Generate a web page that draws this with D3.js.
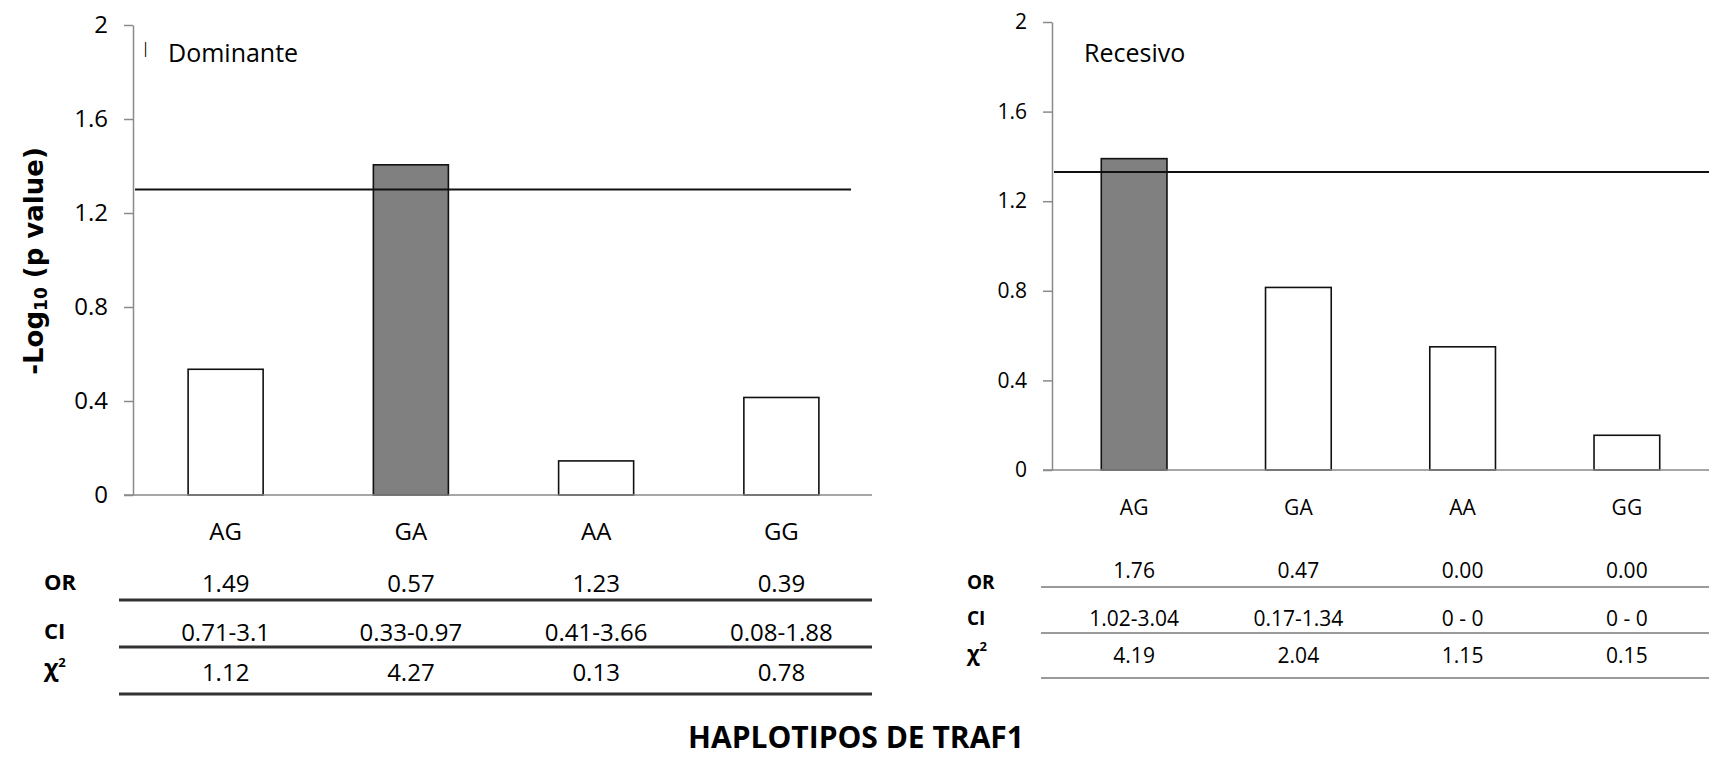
<!DOCTYPE html>
<html>
<head>
<meta charset="utf-8">
<script src="https://cdn.jsdelivr.net/npm/d3@7"></script>
<style>
  body { margin: 0; background: #fff; }
  svg text { font-family: "Open Sans", sans-serif; fill: #000; }
</style>
</head>
<body>
<svg id="chart" width="1709" height="757"></svg>
<script>
// haplotypes on the x axis
var haplotypes = ["AG", "GA", "AA", "GG"];

// -log10(p) per haplotype
var domValues = [0.535, 1.405, 0.145, 0.415];
var recValues = [1.39, 0.815, 0.55, 0.155];

// significance lines
var domThreshold = 1.30;
var recThreshold = 1.33;

var yTicks = [0, 0.4, 0.8, 1.2, 1.6, 2];

// bar drawn in grey
var domHighlight = "GA";
var recHighlight = "AG";

// table rows under each chart
var domOR = ["1.49", "0.57", "1.23", "0.39"];
var domCI = ["0.71-3.1", "0.33-0.97", "0.41-3.66", "0.08-1.88"];
var domChi = ["1.12", "4.27", "0.13", "0.78"];
var recOR = ["1.76", "0.47", "0.00", "0.00"];
var recCI = ["1.02-3.04", "0.17-1.34", "0 - 0", "0 - 0"];
var recChi = ["4.19", "2.04", "1.15", "0.15"];

var svg = d3.select("#chart");

function drawPanel(p) {

  var x = d3.scaleBand()
    .domain(haplotypes)
    .range([p.x0, p.x1])
    .paddingInner(p.pad)
    .paddingOuter(p.pad / 2);

  var y = d3.scaleLinear()
    .domain([0, 2])
    .range([p.yBottom, p.yTop]);

  var g = svg.append("g");

  // y axis
  var yAxis = d3.axisLeft(y)
    .tickValues(yTicks)
    .tickSize(9)
    .tickSizeOuter(0)
    .tickPadding(16)
    .tickFormat(d3.format("~g"));

  var ya = g.append("g")
    .attr("transform", "translate(" + p.x0 + ",0)")
    .call(yAxis);
  ya.select(".domain").attr("stroke", "#8a8a8a").attr("stroke-width", 1.5);
  ya.selectAll(".tick line").attr("stroke", "#8a8a8a").attr("stroke-width", 1.5);
  ya.selectAll(".tick text")
    .style("font-size", p.tickFs + "px")
    .attr("fill", "#222");

  // bars
  g.selectAll(".bar")
    .data(p.values)
    .enter().append("rect")
    .attr("class", "bar")
    .attr("x", function(d, i) { return x(haplotypes[i]); })
    .attr("width", x.bandwidth())
    .attr("y", function(d) { return y(d); })
    .attr("height", function(d) { return y(0) - y(d); })
    .attr("fill", function(d, i) { return haplotypes[i] == p.highlight ? "#808080" : "#fff"; })
    .attr("stroke", "#111")
    .attr("stroke-width", 1.6);

  // x axis line
  g.append("line")
    .attr("x1", p.x0 - 9).attr("x2", p.xEnd)
    .attr("y1", y(0)).attr("y2", y(0))
    .attr("stroke", "#8a8a8a").attr("stroke-width", 1.5);

  // x labels
  var xAxis = d3.axisBottom(x).tickSize(0).tickPadding(p.xLabelPad);
  var xa = g.append("g")
    .attr("transform", "translate(0," + y(0) + ")")
    .call(xAxis);
  xa.select(".domain").remove();
  xa.selectAll(".tick text").style("font-size", p.fs + "px").attr("fill", "#222");

  // threshold line
  g.append("line")
    .attr("x1", p.x0 + 2).attr("x2", p.lineEnd)
    .attr("y1", y(p.threshold)).attr("y2", y(p.threshold))
    .attr("stroke", "#111").attr("stroke-width", 2);

  // panel title
  g.append("text")
    .attr("x", p.titleX).attr("y", 62)
    .style("font-size", "25px")
    .text(p.title);

  // table
  var rows = [p.or, p.ci, p.chi];
  rows.forEach(function(row, r) {
    g.selectAll(".cell" + r)
      .data(row)
      .enter().append("text")
      .attr("x", function(d, i) { return x(haplotypes[i]) + x.bandwidth() / 2; })
      .attr("y", p.rowY[r])
      .attr("dy", "0.36em")
      .attr("text-anchor", "middle")
      .style("font-size", p.fs + "px")
      .attr("fill", "#222")
      .text(function(d) { return d; });

    g.append("line")
      .attr("x1", p.tableX0).attr("x2", p.tableX1)
      .attr("y1", p.lineY[r]).attr("y2", p.lineY[r])
      .attr("stroke", p.lineColor).attr("stroke-width", p.lineW);
  });

  var labels = ["OR", "CI"];
  labels.forEach(function(l, r) {
    g.append("text")
      .attr("x", p.labelX).attr("y", p.labelY[r])
      .attr("dy", "0.36em")
      .style("font-size", p.labelFs + "px").style("font-weight", "bold")
      .text(l);
  });
  var chi = g.append("text")
    .attr("x", p.labelX).attr("y", p.labelY[2])
    .attr("dy", "0.36em")
    .style("font-size", (p.labelFs + 2) + "px").style("font-weight", "bold");
  chi.append("tspan").text("χ");
  chi.append("tspan").attr("dy", "-0.7em").style("font-size", "13px").text("2");
}

// Dominante
drawPanel({
  x0: 133, x1: 874, xEnd: 872, lineEnd: 851, pad: 0.595,
  yBottom: 495, yTop: 25,
  fs: 24, tickFs: 24, xLabelPad: 28, labelFs: 22,
  values: domValues, threshold: domThreshold, highlight: domHighlight,
  title: "Dominante", titleX: 168,
  or: domOR, ci: domCI, chi: domChi,
  rowY: [583, 632, 672], labelY: [582, 631, 667], labelX: 44,
  lineY: [600, 647, 694], tableX0: 119, tableX1: 872,
  lineColor: "#333", lineW: 3
});

// Recesivo
drawPanel({
  x0: 1052, x1: 1709, xEnd: 1709, lineEnd: 1709, pad: 0.6,
  yBottom: 470, yTop: 22,
  fs: 21, tickFs: 21, xLabelPad: 30, labelFs: 19,
  values: recValues, threshold: recThreshold, highlight: recHighlight,
  title: "Recesivo", titleX: 1084,
  or: recOR, ci: recCI, chi: recChi,
  rowY: [570, 618, 655], labelY: [582, 618, 653], labelX: 967,
  lineY: [587, 633, 678], tableX0: 1041, tableX1: 1709,
  lineColor: "#9a9a9a", lineW: 2
});

// stray mark next to the left title
svg.append("text")
  .attr("x", 143).attr("y", 57)
  .style("font-size", "20px")
  .style("font-weight", "300")
  .attr("fill", "#333")
  .text("I");

// y axis label
var yl = svg.append("text")
  .attr("transform", "translate(43,261) rotate(-90)")
  .attr("text-anchor", "middle")
  .style("font-family", "'DejaVu Sans', sans-serif")
  .style("font-size", "26px")
  .style("font-weight", "bold");
yl.append("tspan").text("-Log");
yl.append("tspan").attr("dy", "0.25em").style("font-size", "17px").text("10");
yl.append("tspan").attr("dy", "-0.17em").text(" (p value)");

// title
svg.append("text")
  .attr("x", 856).attr("y", 748)
  .attr("text-anchor", "middle")
  .style("font-size", "30px")
  .style("font-weight", "bold")
  .text("HAPLOTIPOS  DE TRAF1");
</script>
</body>
</html>
